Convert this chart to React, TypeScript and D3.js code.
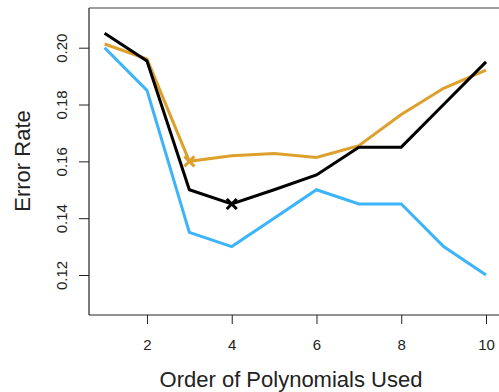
import React, { useEffect, useRef } from 'react';
import * as d3 from 'd3';

const orders = [1, 2, 3, 4, 5, 6, 7, 8, 9, 10];
const blueErr = [0.2, 0.185, 0.135, 0.13, 0.14, 0.15, 0.145, 0.145, 0.13, 0.12];
const orangeErr = [0.2013, 0.196, 0.16, 0.162, 0.1628, 0.1614, 0.1655, 0.1765, 0.1857, 0.1921];
const blackErr = [0.2051, 0.1953, 0.15, 0.145, 0.15, 0.1552, 0.165, 0.165, 0.18, 0.195];
const xTicks = [2, 4, 6, 8, 10];
const yTicks = [0.12, 0.14, 0.16, 0.18, 0.2];
const orangeMin = { x: 3, y: 0.16 };
const blackMin = { x: 4, y: 0.145 };

const App = () => {
    const svgRef = useRef<SVGSVGElement>(null);

    useEffect(() => {
        const svg = d3.select(svgRef.current);
        svg.selectAll('*').remove();

        const left = 89, top = 8, bottom = 315, right = 502;
        const x = d3.scaleLinear().domain([1, 10]).range([104.6, 486]);
        const y = d3.scaleLinear().domain([0.12, 0.2]).range([275, 47.7]);
        const font = 'Liberation Sans, Arial, Helvetica, sans-serif';

        // box
        svg.append('line').attr('x1', left).attr('x2', right).attr('y1', top).attr('y2', top)
            .attr('stroke', '#808080').attr('stroke-width', 1.5);
        svg.append('line').attr('x1', left).attr('x2', right).attr('y1', bottom).attr('y2', bottom)
            .attr('stroke', '#222').attr('stroke-width', 1.2);
        svg.append('line').attr('x1', left).attr('x2', left).attr('y1', top).attr('y2', bottom)
            .attr('stroke', '#222').attr('stroke-width', 1.2);

        // x axis
        const xa = svg.append('g').attr('transform', `translate(0,${bottom})`)
            .call(d3.axisBottom(x).tickValues(xTicks).tickSize(9).tickPadding(15).tickFormat(d3.format('d')));
        xa.select('.domain').remove();
        xa.selectAll('line').attr('stroke', '#222');
        xa.selectAll('text').attr('font-size', 15).attr('font-family', font).attr('fill', '#222');

        // y axis, labels rotated like R's default
        const ya = svg.append('g').attr('transform', `translate(${left},0)`)
            .call(d3.axisLeft(y).tickValues(yTicks).tickSize(10).tickFormat(d3.format('.2f')));
        ya.select('.domain').remove();
        ya.selectAll('line').attr('stroke', '#222');
        ya.selectAll('text')
            .attr('font-size', 15).attr('font-family', font).attr('fill', '#222')
            .attr('x', null).attr('dy', null)
            .attr('text-anchor', 'middle')
            .attr('transform', 'translate(-27.5,0) rotate(-90)')
            .attr('dy', '0.35em');

        const line = d3.line<number>()
            .x((_, i) => x(orders[i]))
            .y(d => y(d));

        const series = [
            { values: blueErr, color: '#3bb4fa' },
            { values: orangeErr, color: '#dea02c' },
            { values: blackErr, color: '#000000' },
        ];
        series.forEach(s => {
            svg.append('path').datum(s.values)
                .attr('fill', 'none').attr('stroke', s.color).attr('stroke-width', 3)
                .attr('d', line);
        });

        // minimum markers
        const cross = (p: { x: number, y: number }, color: string) => {
            const cx = x(p.x), cy = y(p.y), r = 5;
            svg.append('path')
                .attr('d', `M${cx - r},${cy - r}L${cx + r},${cy + r}M${cx - r},${cy + r}L${cx + r},${cy - r}`)
                .attr('stroke', color).attr('stroke-width', 3).attr('fill', 'none');
        };
        cross(orangeMin, '#dea02c');
        cross(blackMin, '#000000');

        // axis titles
        svg.append('text').text('Order of Polynomials Used')
            .attr('x', 291).attr('y', 387).attr('text-anchor', 'middle')
            .attr('font-size', 22).attr('font-family', font).attr('fill', '#222');
        svg.append('text').text('Error Rate')
            .attr('transform', 'translate(30,161) rotate(-90)').attr('text-anchor', 'middle')
            .attr('font-size', 22).attr('font-family', font).attr('fill', '#222');
    }, []);

    return (
        <svg ref={svgRef} width={499} height={392}
            style={{ position: 'absolute', left: 0, top: 0, background: '#fff' }}></svg>
    );
};

export default App;
